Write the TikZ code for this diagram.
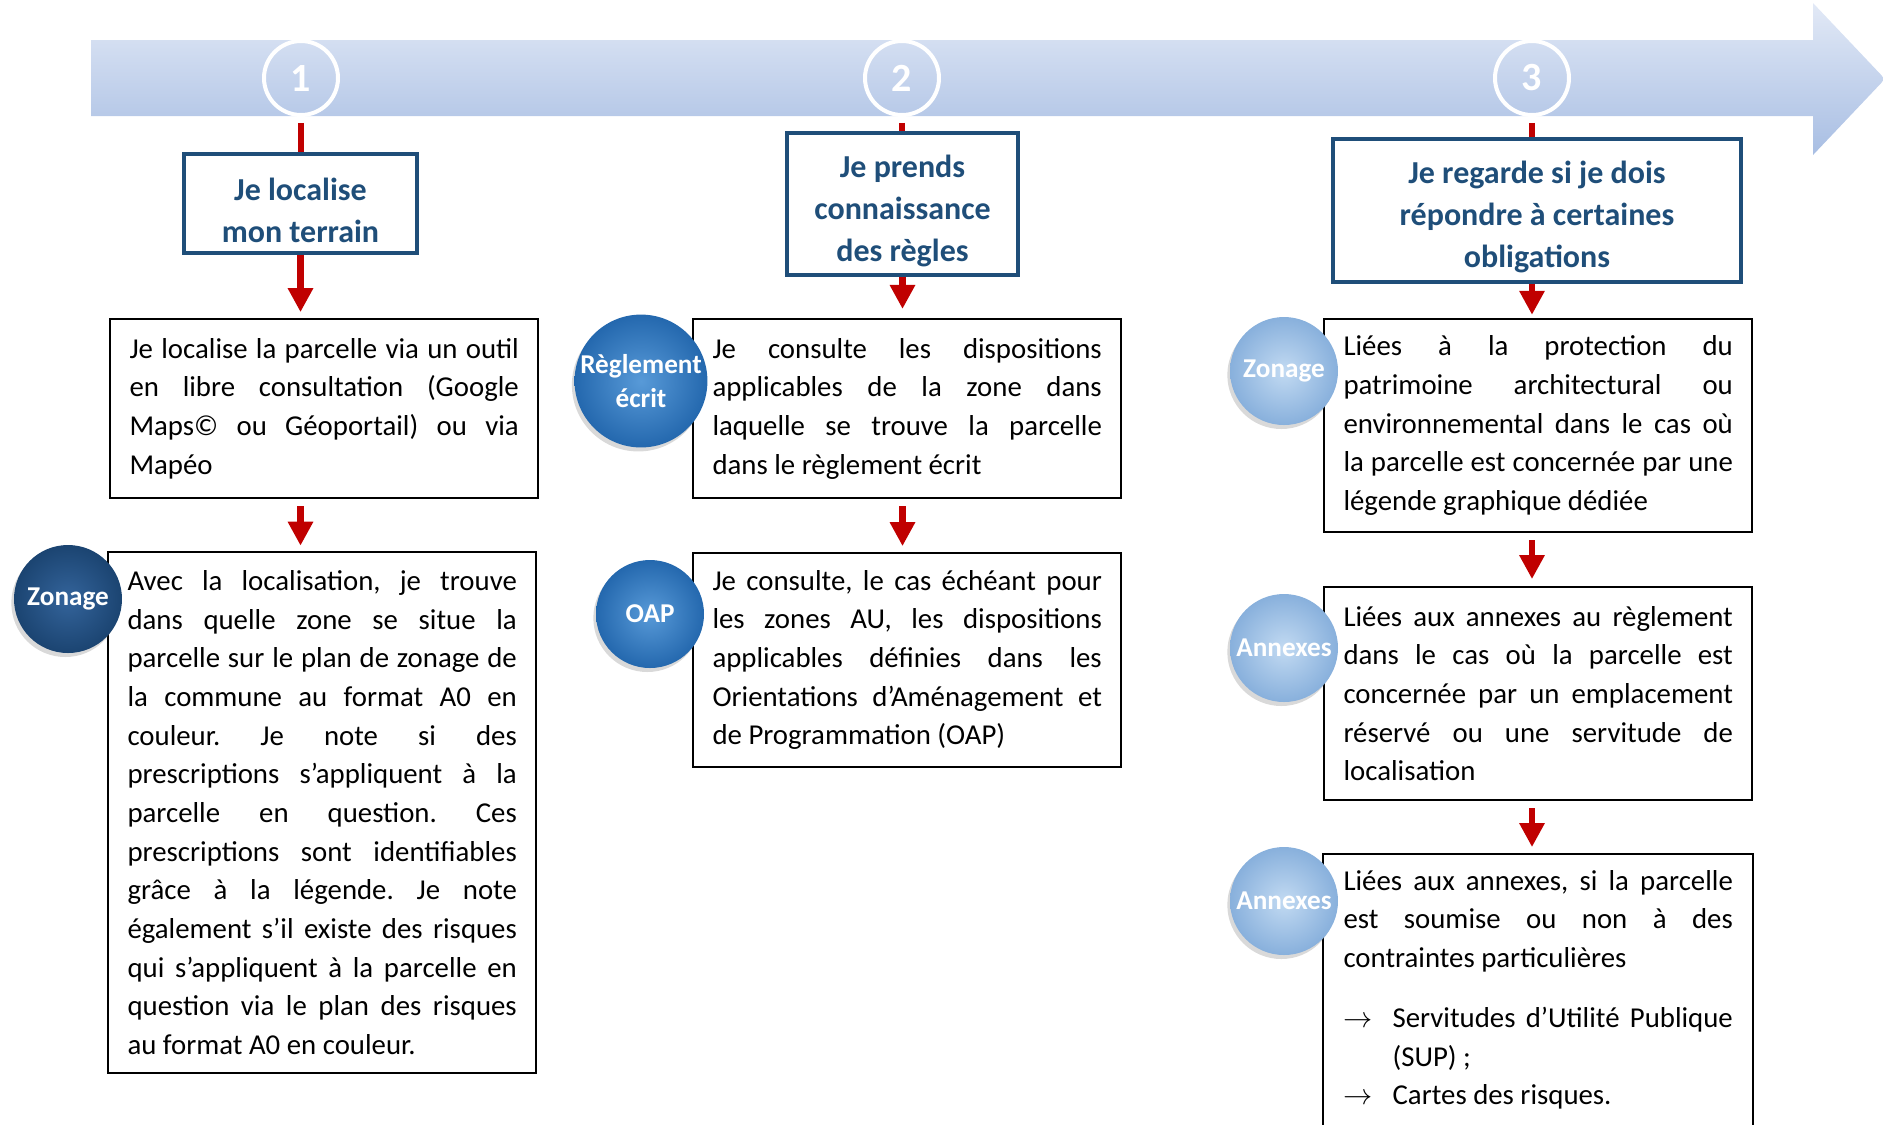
\documentclass[tikz,border=0pt]{standalone}
\usepackage{fontspec}
\setmainfont{Carlito}
\usetikzlibrary{arrows.meta,shadows}

\definecolor{navy}{RGB}{31,78,121}
\definecolor{arrowred}{RGB}{192,0,0}
\definecolor{bandtop}{RGB}{226,233,246}
\definecolor{bandbot}{RGB}{168,190,227}
\definecolor{darkin}{RGB}{52,100,155}
\definecolor{darkout}{RGB}{27,68,113}
\definecolor{midin}{RGB}{88,154,216}
\definecolor{midout}{RGB}{36,104,174}
\definecolor{lightin}{RGB}{194,218,242}
\definecolor{lightout}{RGB}{136,176,220}

\hyphenpenalty=10000
\tolerance=10000
\frenchspacing
% a bit of room above the first title line
\newcommand{\topgap}{\rule{0pt}{13.5pt}}

\tikzset{
every picture/.style={
line width=0.8pt
},
numcirc/.style={circle, draw=white, line width=1.5pt, minimum size=27.75pt, inner sep=0pt, text=white, font=\bfseries\fontsize{15}{15}\selectfont},
titlebox/.style={draw=navy, line width=1.5pt, text=navy, align=center, inner sep=0pt, font=\bfseries\fontsize{12}{15.8}\selectfont},
bodybox/.style={draw=black, anchor=north west, text width=146pt, inner xsep=7.3pt, inner ysep=0pt, align=justify, font=\fontsize{10.8}{14.5}\selectfont},
ball/.style={circle, minimum size=40.5pt, inner sep=0pt, text=white, align=center, font=\bfseries\fontsize{10.2}{13}\selectfont, drop shadow={opacity=0.3, shadow xshift=-1pt, shadow yshift=-1.5pt}},
darkball/.style={ball, inner color=darkin, outer color=darkout},
midball/.style={ball, inner color=midin, outer color=midout},
lightball/.style={ball, inner color=lightin, outer color=lightout},
redline/.style={draw=arrowred, line width=2.6pt},
redarrow/.style={redline, -{Triangle[length=9pt,width=9pt]}}
}

\begin{document}
\begin{tikzpicture}[x=0.375pt, y=-0.375pt]
\useasboundingbox (0,0) rectangle (1883,1124);
\clip (0,0) rectangle (1883,1124);
\coordinate (bottom) at (0,1140);

% the big arrow on top
\shade[top color=bandtop, bottom color=bandbot] (91,40) -- (1813,40) -- (1813,3) -- (1885,79) -- (1813,155) -- (1813,116) -- (91,116) -- cycle;

\foreach \n/\x in {1/301, 2/902, 3/1532}{
  \node[numcirc] (num\n) at (\x,78) {\n};
}

% steps
\node[titlebox, minimum width=87.4pt, minimum height=37.1pt] (t1) at (300.5,203.5) {\topgap Je localise\\mon terrain};
\node[titlebox, minimum width=86.6pt, minimum height=53.25pt] (t2) at (902.5,204) {\topgap Je prends\\connaissance\\des règles};
\node[titlebox, minimum width=153pt, minimum height=53.6pt] (t3) at (1537,210.5) {\topgap Je regarde si je dois\\répondre à certaines\\obligations};

% column 1
\node[bodybox, minimum height=67.1pt] (b1) at (109,318) {Je localise la parcelle via un outil\linebreak en libre consultation (Google\linebreak Maps© ou Géoportail) ou via\linebreak Mapéo};
\node[bodybox, minimum height=195.4pt] (b2) at (107,551) {Avec la localisation, je trouve\linebreak dans quelle zone se situe la\linebreak parcelle sur le plan de zonage de\linebreak la commune au format A0 en\linebreak couleur. Je note si des\linebreak prescriptions s’appliquent à la\linebreak parcelle en question. Ces\linebreak prescriptions sont identifiables\linebreak grâce à la légende. Je note\linebreak également s’il existe des risques\linebreak qui s’appliquent à la parcelle en\linebreak question via le plan des risques\linebreak au format A0 en couleur.};

% column 2
\node[bodybox, minimum height=67.1pt] (c1) at (692,318) {Je consulte les dispositions\linebreak applicables de la zone dans\linebreak laquelle se trouve la parcelle\linebreak dans le règlement écrit};
\node[bodybox, minimum height=80.25pt] (c2) at (692,552) {Je consulte, le cas échéant pour\linebreak les zones AU, les dispositions\linebreak applicables définies dans les\linebreak Orientations d’Aménagement et\linebreak de Programmation (OAP)};

% column 3
\node[bodybox, minimum height=79.9pt] (d1) at (1323,318) {Liées à la protection du\linebreak patrimoine architectural ou\linebreak environnemental dans le cas où\linebreak la parcelle est concernée par une\linebreak légende graphique dédiée};
\node[bodybox, minimum height=79.9pt] (d2) at (1323,586) {Liées aux annexes au règlement\linebreak dans le cas où la parcelle est\linebreak concernée par un emplacement\linebreak réservé ou une servitude de\linebreak localisation};
\node[bodybox, draw=none, inner ysep=5.6pt] (d3) at (1323,854) {Liées aux annexes, si la parcelle\linebreak est soumise ou non à des\linebreak contraintes particulières\par\vspace{8pt}
\hangindent=18.4pt\hangafter=1\noindent\makebox[18.4pt][l]{$\rightarrow$}Servitudes d’Utilité Publique\linebreak (SUP)~;\par
\noindent\makebox[18.4pt][l]{$\rightarrow$}Cartes des risques.};
\draw (d3.west |- bottom) -- (d3.north west) -- (d3.north east) -- (d3.east |- bottom);

% red links
\foreach \n in {1,2,3}{
  \draw[redline, shorten <=2.2pt] (num\n.south) -- (num\n.south |- t\n.north);
}
\draw[redarrow, shorten >=2.2pt] (t1.south) -- (t1.south |- b1.north);
\draw[redarrow, shorten <=2.6pt, shorten >=2pt] (t1.south |- b1.south) -- (t1.south |- b2.north);
\draw[redarrow, shorten >=3.4pt] (t2.south) -- (t2.south |- c1.north);
\draw[redarrow, shorten <=2.6pt, shorten >=2.2pt] (t2.south |- c1.south) -- (t2.south |- c2.north);
\draw[redarrow, shorten >=1.2pt] (num3.south |- t3.south) -- (num3.south |- d1.north);
\draw[redarrow, shorten <=2.6pt, shorten >=2.6pt] (num3.south |- d1.south) -- (num3.south |- d2.north);
\draw[redarrow, shorten <=2.6pt, shorten >=2.6pt] (num3.south |- d2.south) -- (num3.south |- d3.north);

% balls
\node[darkball] (zon1) at (68,599) {Zonage};
\node[midball, minimum size=47.25pt] (reg) at (641,381) {Règlement\\écrit};
\node[midball] (oap) at (650,614) {OAP};
\foreach \nm/\y/\txt in {zon3/371/Zonage, ann1/648/Annexes, ann2/901/Annexes}{
  \node[lightball] (\nm) at (1284,\y) {\txt};
}
\end{tikzpicture}
\end{document}
